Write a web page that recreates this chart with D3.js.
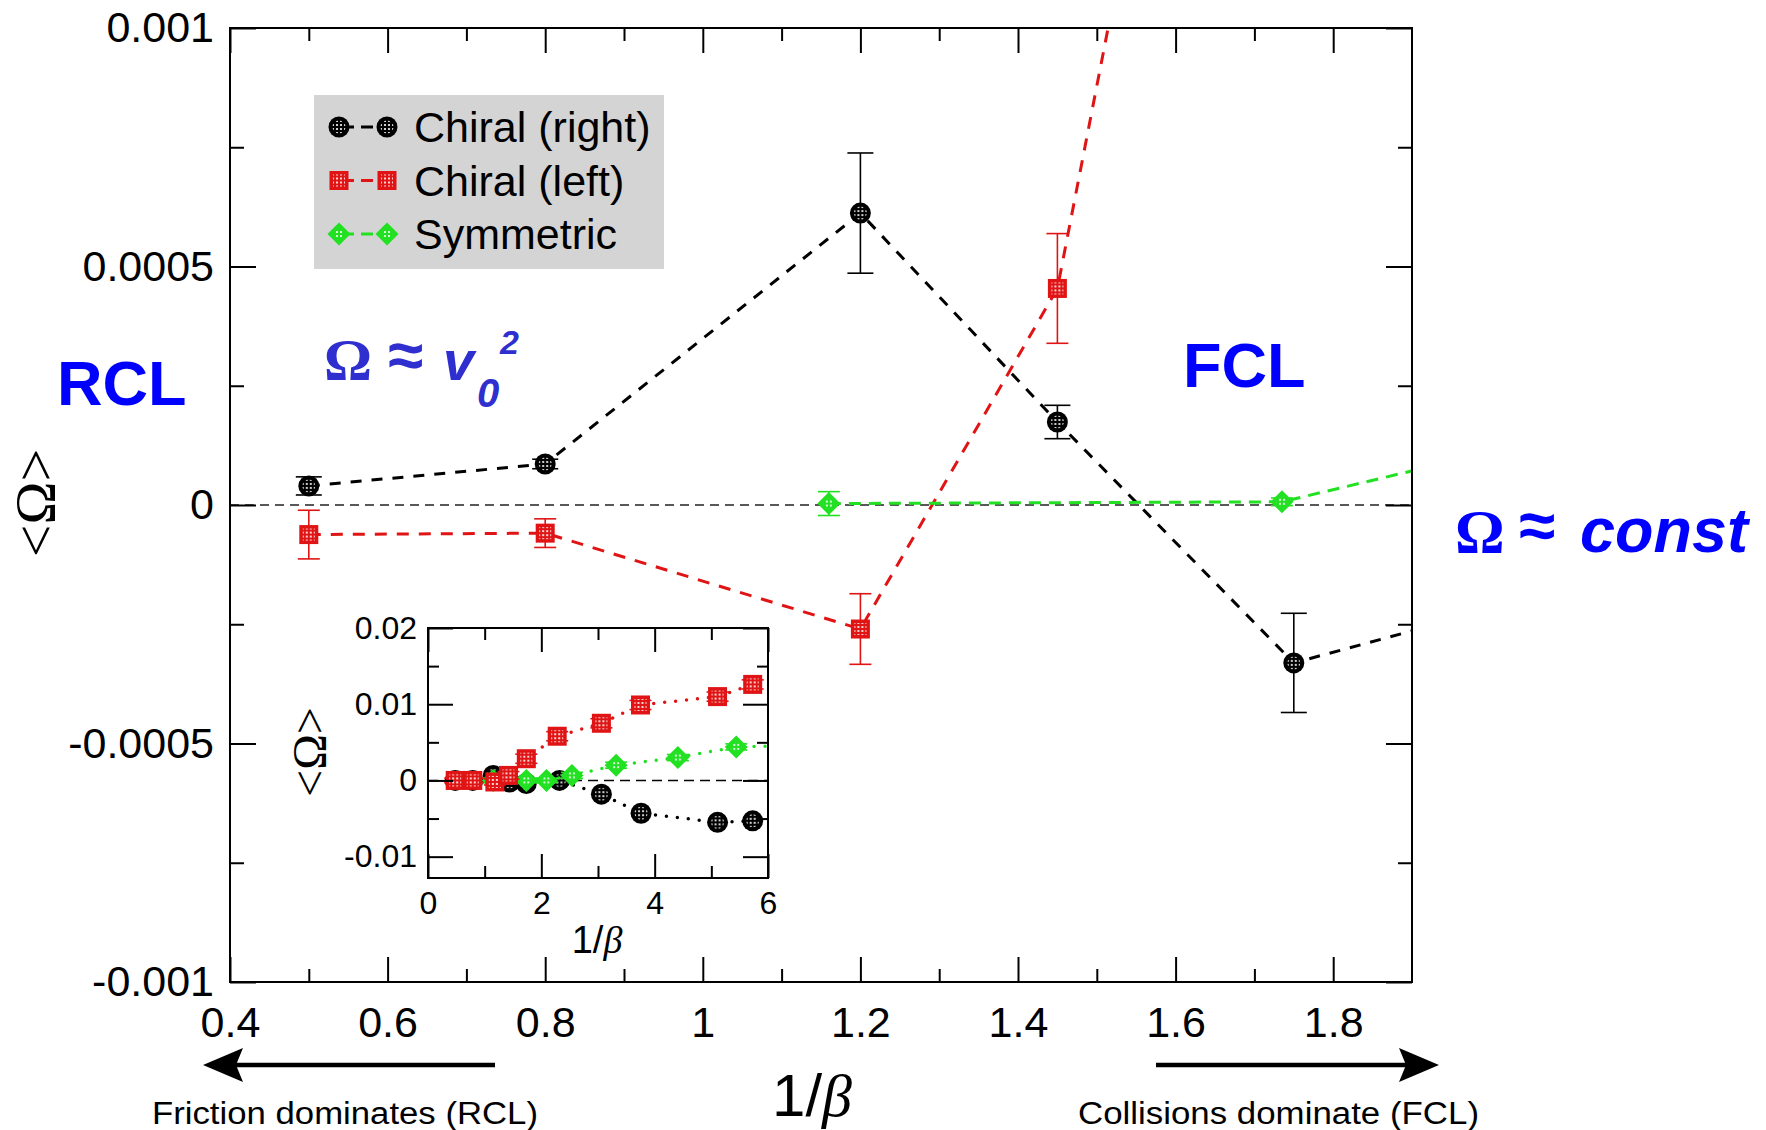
<!DOCTYPE html>
<html>
<head>
<meta charset="utf-8">
<script src="https://cdn.jsdelivr.net/npm/d3@7"></script>
<style>
  html, body { margin: 0; padding: 0; background: #fff; }
  svg { display: block; font-family: "Liberation Sans", Arial, sans-serif; }
</style>
</head>
<body>
<svg id="chart"></svg>
<script>
// ---- main plot data ----
let mainXTicks = [0.4, 0.6, 0.8, 1, 1.2, 1.4, 1.6, 1.8];
let mainXLabels = ['0.4', '0.6', '0.8', '1', '1.2', '1.4', '1.6', '1.8'];
let mainXMinor = [0.5, 0.7, 0.9, 1.1, 1.3, 1.5, 1.7];
let mainYTicks = [-0.001, -0.0005, 0, 0.0005, 0.001];
let mainYLabels = ['-0.001', '-0.0005', '0', '0.0005', '0.001'];
let mainYMinor = [-0.00075, -0.00025, 0.00025, 0.00075];

let rightX = [0.5, 0.8, 1.2, 1.45, 1.75, 2.3];
let rightY = [0.00004, 0.000086, 0.000612, 0.000174, -0.000331, -0.000085];
let rightErr = [0.000019, 0.00001, 0.000126, 0.000035, 0.000104, 0.0001];

let leftX = [0.5, 0.8, 1.2, 1.45, 1.75];
let leftY = [-0.000062, -0.000059, -0.00026, 0.000454, 0.003];
let leftErr = [0.000051, 0.00003, 0.000074, 0.000115, 0.0002];

let symX = [1.16, 1.735, 2.1];
let symY = [0.000003, 0.0000067, 0.00015];
let symErr = [0.000025, 0.000008, 0.00001];

// ---- inset data ----
let insetXTicks = [0, 2, 4, 6];
let insetXMinor = [1, 3, 5];
let insetYTicks = [-0.01, 0, 0.01, 0.02];
let insetYLabels = ['-0.01', '0', '0.01', '0.02'];
let insetYMinor = [-0.005, 0.005, 0.015];

let inRightX = [0.48, 0.79, 1.15, 1.44, 1.735, 2.32, 3.06, 3.76, 5.11, 5.73];
let inRightY = [0, 0, 0.00066, -0.0002, -0.0004, 0, -0.0018, -0.0043, -0.0055, -0.0053];
let inRightErr = [0.0002, 0.0002, 0.0003, 0.0003, 0.0003, 0.0003, 0.0004, 0.0004, 0.0004, 0.0004];

let inLeftX = [0.48, 0.79, 1.18, 1.42, 1.735, 2.28, 3.06, 3.75, 5.11, 5.73];
let inLeftY = [0, 0, -0.0002, 0.00066, 0.00285, 0.0058, 0.0075, 0.0099, 0.011, 0.0126];
let inLeftErr = [0.0003, 0.0003, 0.0004, 0.0005, 0.0006, 0.0006, 0.0006, 0.0006, 0.0006, 0.0006];

let inSymX = [1.15, 1.735, 2.09, 2.54, 3.32, 4.41, 5.44, 6.6];
let inSymY = [0, 0, 0, 0.00066, 0.002, 0.003, 0.0044, 0.0046];
let inSymErr = [0.0003, 0.0003, 0.0003, 0.0004, 0.0004, 0.0004, 0.0004, 0.0004];

let BLACK = '#000000', RED = '#e01414', GREEN = '#22e022';

let width = 1766, height = 1130;
let svg = d3.select('#chart').attr('width', width).attr('height', height);

// dotted fill for the markers
let defs = svg.append('defs');
defs.append('pattern')
  .attr('id', 'dots')
  .attr('width', 4).attr('height', 4)
  .attr('patternUnits', 'userSpaceOnUse')
  .append('circle')
  .attr('cx', 2).attr('cy', 2).attr('r', 1.1)
  .attr('fill', '#fff');

let drawMarker = (g, type, color, cx, cy) => {
  let m = g.append('g').attr('transform', `translate(${cx},${cy})`);
  if (type === 'circle') {
    m.append('circle').attr('r', 10.5).attr('fill', color);
    m.append('circle').attr('r', 6.5).attr('fill', 'url(#dots)');
  } else if (type === 'square') {
    m.append('rect').attr('x', -9.5).attr('y', -9.5).attr('width', 19).attr('height', 19).attr('fill', color);
    m.append('rect').attr('x', -6).attr('y', -6).attr('width', 12).attr('height', 12).attr('fill', 'url(#dots)');
  } else {
    m.append('path').attr('d', 'M0,-11.5L11.5,0L0,11.5L-11.5,0Z').attr('fill', color);
    m.append('path').attr('d', 'M0,-6L6,0L0,6L-6,0Z').attr('fill', 'url(#dots)');
  }
};

let drawSeries = (g, xs, ys, X, Y, E, o) => {
  let pts = X.map((d, i) => ({ x: d, y: Y[i], e: E[i] }));
  g.append('path')
    .datum(pts)
    .attr('d', d3.line().x(d => xs(d.x)).y(d => ys(d.y)))
    .attr('fill', 'none')
    .attr('stroke', o.color)
    .attr('stroke-width', o.lw)
    .attr('stroke-dasharray', o.dash)
    .attr('stroke-linecap', o.linecap || 'butt');

  let [x0, x1] = xs.domain(), [y0, y1] = ys.domain();
  let vis = pts.filter(d => d.x >= x0 && d.x <= x1 && d.y >= y0 && d.y <= y1);

  // error bars
  vis.forEach(d => {
    let cx = xs(d.x), ya = ys(d.y + d.e), yb = ys(d.y - d.e);
    g.append('line').attr('x1', cx).attr('x2', cx).attr('y1', ya).attr('y2', yb)
      .attr('stroke', o.color).attr('stroke-width', 1.6);
    [ya, yb].forEach(yy => {
      g.append('line').attr('x1', cx - o.cap).attr('x2', cx + o.cap).attr('y1', yy).attr('y2', yy)
        .attr('stroke', o.color).attr('stroke-width', 1.6);
    });
  });
  vis.forEach(d => drawMarker(g, o.marker, o.color, xs(d.x), ys(d.y)));
};

let styleAxis = (sel, size) => {
  sel.select('.domain').remove();
  sel.attr('font-family', '"Liberation Sans", Arial, sans-serif').attr('font-size', size);
  sel.selectAll('.tick line').attr('stroke', '#000').attr('stroke-width', 2);
  sel.selectAll('.tick text').attr('fill', '#000');
};

// frame with ticks on all four sides, pointing inward
let drawFrame = (g, xs, ys, t) => {
  let [L, R] = xs.range(), [B, T] = ys.range();
  g.append('g').attr('transform', `translate(0,${B})`)
    .call(d3.axisBottom(xs).tickValues(t.xMaj).tickSize(-t.maj).tickPadding(t.xPad).tickFormat((d, i) => t.xLab[i]))
    .call(a => styleAxis(a, t.font));
  g.append('g').attr('transform', `translate(0,${B})`)
    .call(d3.axisBottom(xs).tickValues(t.xMin).tickSize(-t.min).tickFormat(''))
    .call(a => styleAxis(a, t.font));
  g.append('g').attr('transform', `translate(0,${T})`)
    .call(d3.axisTop(xs).tickValues(t.xMaj).tickSize(-t.maj).tickFormat(''))
    .call(a => styleAxis(a, t.font));
  g.append('g').attr('transform', `translate(0,${T})`)
    .call(d3.axisTop(xs).tickValues(t.xMin).tickSize(-t.min).tickFormat(''))
    .call(a => styleAxis(a, t.font));
  g.append('g').attr('transform', `translate(${L},0)`)
    .call(d3.axisLeft(ys).tickValues(t.yMaj).tickSize(-t.majY).tickPadding(t.yPad).tickFormat((d, i) => t.yLab[i]))
    .call(a => styleAxis(a, t.font));
  g.append('g').attr('transform', `translate(${L},0)`)
    .call(d3.axisLeft(ys).tickValues(t.yMin).tickSize(-t.minY).tickFormat(''))
    .call(a => styleAxis(a, t.font));
  g.append('g').attr('transform', `translate(${R},0)`)
    .call(d3.axisRight(ys).tickValues(t.yMaj).tickSize(-t.majY).tickFormat(''))
    .call(a => styleAxis(a, t.font));
  g.append('g').attr('transform', `translate(${R},0)`)
    .call(d3.axisRight(ys).tickValues(t.yMin).tickSize(-t.minY).tickFormat(''))
    .call(a => styleAxis(a, t.font));
  g.append('rect').attr('x', L).attr('y', T).attr('width', R - L).attr('height', B - T)
    .attr('fill', 'none').attr('stroke', '#000').attr('stroke-width', 2);
};

// ================= main plot =================
let x = d3.scaleLinear().domain([0.4, 1.9]).range([230, 1412]);
let y = d3.scaleLinear().domain([-0.001, 0.001]).range([982, 28]);

let mainG = svg.append('g');
defs.append('clipPath').attr('id', 'clipMain')
  .append('rect').attr('x', 230).attr('y', 28).attr('width', 1182).attr('height', 954);

let dataLayer = mainG.append('g').attr('clip-path', 'url(#clipMain)');
dataLayer.append('line')
  .attr('x1', x(0.4)).attr('x2', x(1.9)).attr('y1', y(0)).attr('y2', y(0))
  .attr('stroke', '#222').attr('stroke-width', 1.5).attr('stroke-dasharray', '9,6');

drawSeries(dataLayer, x, y, rightX, rightY, rightErr, { color: BLACK, lw: 3, dash: '11,10', cap: 13, marker: 'circle' });
drawSeries(dataLayer, x, y, leftX, leftY, leftErr, { color: RED, lw: 3, dash: '12,10', cap: 11, marker: 'square' });
drawSeries(dataLayer, x, y, symX, symY, symErr, { color: GREEN, lw: 3, dash: '12,8', cap: 11, marker: 'diamond' });

drawFrame(mainG, x, y, {
  xMaj: mainXTicks, xLab: mainXLabels, xMin: mainXMinor,
  yMaj: mainYTicks, yLab: mainYLabels, yMin: mainYMinor,
  maj: 25, min: 13, majY: 26, minY: 14, xPad: 24, yPad: 16, font: 43
});

// axis titles
let xt = svg.append('text').attr('x', 812).attr('y', 1116).attr('text-anchor', 'middle')
  .attr('font-size', 60).attr('fill', '#000');
xt.append('tspan').text('1/');
xt.append('tspan').attr('font-style', 'italic').attr('font-family', '"Liberation Serif", serif').text('β');

svg.append('text')
  .attr('transform', 'translate(35,503) rotate(-90)')
  .attr('text-anchor', 'middle').attr('dominant-baseline', 'central')
  .attr('font-family', '"Liberation Serif", "DejaVu Serif", serif').attr('font-size', 58)
  .text('<Ω>');

// legend
let legendItems = [
  { name: 'Chiral (right)', color: BLACK, marker: 'circle' },
  { name: 'Chiral (left)', color: RED, marker: 'square' },
  { name: 'Symmetric', color: GREEN, marker: 'diamond' }
];
let legend = svg.append('g');
legend.append('rect').attr('x', 314).attr('y', 95).attr('width', 350).attr('height', 174).attr('fill', '#d4d4d4');
legendItems.forEach((d, i) => {
  let cy = 127 + i * 53.5;
  legend.append('line').attr('x1', 339).attr('x2', 387).attr('y1', cy).attr('y2', cy)
    .attr('stroke', d.color).attr('stroke-width', 3).attr('stroke-dasharray', '12,7').attr('stroke-dashoffset', -3);
  drawMarker(legend, d.marker, d.color, 339, cy);
  drawMarker(legend, d.marker, d.color, 387, cy);
  legend.append('text').attr('x', 414).attr('y', cy).attr('dominant-baseline', 'central')
    .attr('font-size', 43).attr('fill', '#000').text(d.name);
});

// ================= inset =================
let ix = d3.scaleLinear().domain([0, 6]).range([428, 768]);
let iy = d3.scaleLinear().domain([-0.0128, 0.02]).range([878, 628]);

let insetG = svg.append('g');
insetG.append('rect').attr('x', 428).attr('y', 628).attr('width', 340).attr('height', 250).attr('fill', '#fff');
defs.append('clipPath').attr('id', 'clipInset')
  .append('rect').attr('x', 428).attr('y', 628).attr('width', 340).attr('height', 250);
let insetData = insetG.append('g').attr('clip-path', 'url(#clipInset)');
insetData.append('line')
  .attr('x1', ix(0)).attr('x2', ix(6)).attr('y1', iy(0)).attr('y2', iy(0))
  .attr('stroke', '#000').attr('stroke-width', 1.6).attr('stroke-dasharray', '10,6');

drawSeries(insetData, ix, iy, inRightX, inRightY, inRightErr, { color: BLACK, lw: 3.5, dash: '0,11', linecap: 'round', cap: 9, marker: 'circle' });
drawSeries(insetData, ix, iy, inSymX, inSymY, inSymErr, { color: GREEN, lw: 3.5, dash: '0,11', linecap: 'round', cap: 11, marker: 'diamond' });
drawSeries(insetData, ix, iy, inLeftX, inLeftY, inLeftErr, { color: RED, lw: 3.5, dash: '0,11', linecap: 'round', cap: 11, marker: 'square' });

drawFrame(insetG, ix, iy, {
  xMaj: insetXTicks, xLab: insetXTicks.map(String), xMin: insetXMinor,
  yMaj: insetYTicks, yLab: insetYLabels, yMin: insetYMinor,
  maj: 24, min: 12, majY: 25, minY: 11, xPad: 13, yPad: 11, font: 32
});

let ixt = svg.append('text').attr('x', 597).attr('y', 953).attr('text-anchor', 'middle')
  .attr('font-size', 38).attr('fill', '#000');
ixt.append('tspan').text('1/');
ixt.append('tspan').attr('font-style', 'italic').attr('font-family', '"Liberation Serif", serif').text('β');

svg.append('text')
  .attr('transform', 'translate(309,752) rotate(-90)')
  .attr('text-anchor', 'middle').attr('dominant-baseline', 'central')
  .attr('font-family', '"Liberation Serif", "DejaVu Serif", serif').attr('font-size', 48)
  .text('<Ω>');

// ================= annotations =================
let ann = svg.append('g').attr('font-weight', 'bold');
ann.append('text').attr('x', 57).attr('y', 405).attr('font-size', 63).attr('fill', '#0000ff').text('RCL');
ann.append('text').attr('x', 1183).attr('y', 387).attr('font-size', 63).attr('fill', '#0000ff').text('FCL');

let ANN2 = '#2f2fd0';
ann.append('text').attr('x', 324).attr('y', 380).attr('font-size', 60)
  .attr('font-family', '"Liberation Serif", serif').attr('fill', ANN2).text('Ω');
ann.append('text').attr('x', 388).attr('y', 377).attr('font-size', 64).attr('fill', ANN2).text('≈');
ann.append('text').attr('x', 443).attr('y', 380).attr('font-size', 56).attr('font-style', 'italic').attr('fill', ANN2).text('v');
ann.append('text').attr('x', 477).attr('y', 407).attr('font-size', 40).attr('font-style', 'italic').attr('fill', ANN2).text('0');
ann.append('text').attr('x', 500).attr('y', 354).attr('font-size', 34).attr('font-style', 'italic').attr('fill', ANN2).text('2');

ann.append('text').attr('x', 1455).attr('y', 552).attr('font-size', 62)
  .attr('font-family', '"Liberation Serif", serif').attr('fill', '#0000ff').text('Ω');
ann.append('text').attr('x', 1519).attr('y', 548).attr('font-size', 66).attr('fill', '#0000ff').text('≈');
ann.append('text').attr('x', 1580).attr('y', 552).attr('font-size', 63).attr('font-style', 'italic').attr('fill', '#0000ff').text('const');

// ================= regime arrows =================
let arrows = svg.append('g');
arrows.append('line').attr('x1', 495).attr('x2', 235).attr('y1', 1065).attr('y2', 1065).attr('stroke', '#000').attr('stroke-width', 4.5);
arrows.append('path').attr('d', 'M203,1065L243,1048L236,1065L243,1082Z').attr('fill', '#000');
arrows.append('line').attr('x1', 1156).attr('x2', 1408).attr('y1', 1065).attr('y2', 1065).attr('stroke', '#000').attr('stroke-width', 4.5);
arrows.append('path').attr('d', 'M1439,1065L1399,1048L1406,1065L1399,1082Z').attr('fill', '#000');

arrows.append('text').attr('x', 152).attr('y', 1124).attr('font-size', 31)
  .attr('textLength', 386).attr('lengthAdjust', 'spacingAndGlyphs').text('Friction dominates (RCL)');
arrows.append('text').attr('x', 1078).attr('y', 1124).attr('font-size', 31)
  .attr('textLength', 401).attr('lengthAdjust', 'spacingAndGlyphs').text('Collisions dominate (FCL)');
</script>
</body>
</html>
